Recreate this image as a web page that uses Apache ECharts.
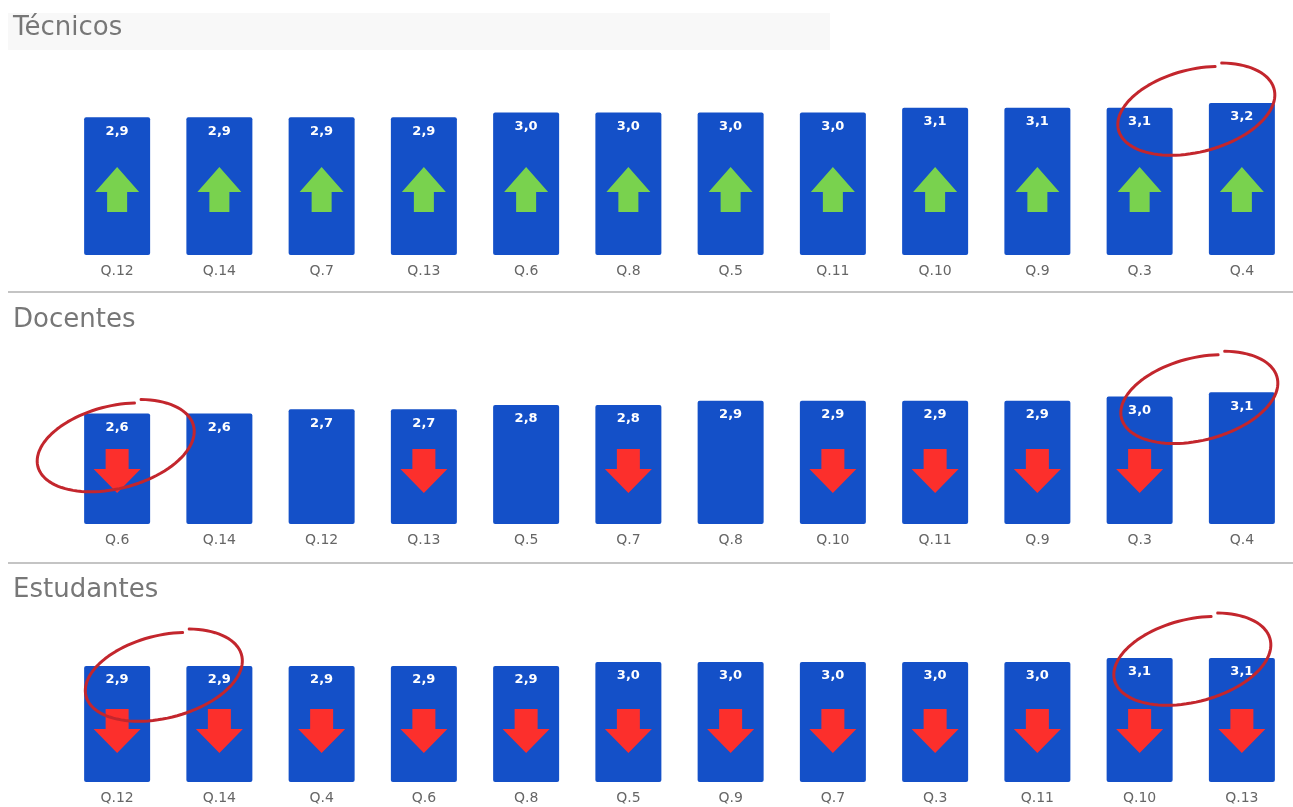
<!DOCTYPE html>
<html>
<head>
<meta charset="utf-8">
<title>Técnicos, Docentes, Estudantes</title>
<script src="https://cdn.jsdelivr.net/npm/echarts@6/dist/echarts.min.js"></script>
<style>
  html, body { margin: 0; padding: 0; background: #ffffff; }
  #chart { width: 1293px; height: 807px; }
</style>
</head>
<body>
<div id="chart"></div>
<script>
// ---- data -------------------------------------------------------------
const tecnicosCategories = ['Q.12', 'Q.14', 'Q.7', 'Q.13', 'Q.6', 'Q.8', 'Q.5', 'Q.11', 'Q.10', 'Q.9', 'Q.3', 'Q.4'];
const tecnicosValues     = [2.9, 2.9, 2.9, 2.9, 3.0, 3.0, 3.0, 3.0, 3.1, 3.1, 3.1, 3.2];
const tecnicosTrend      = ['up', 'up', 'up', 'up', 'up', 'up', 'up', 'up', 'up', 'up', 'up', 'up'];

const docentesCategories = ['Q.6', 'Q.14', 'Q.12', 'Q.13', 'Q.5', 'Q.7', 'Q.8', 'Q.10', 'Q.11', 'Q.9', 'Q.3', 'Q.4'];
const docentesValues     = [2.6, 2.6, 2.7, 2.7, 2.8, 2.8, 2.9, 2.9, 2.9, 2.9, 3.0, 3.1];
const docentesTrend      = ['down', null, null, 'down', null, 'down', null, 'down', 'down', 'down', 'down', null];

const estudantesCategories = ['Q.12', 'Q.14', 'Q.4', 'Q.6', 'Q.8', 'Q.5', 'Q.9', 'Q.7', 'Q.3', 'Q.11', 'Q.10', 'Q.13'];
const estudantesValues     = [2.9, 2.9, 2.9, 2.9, 2.9, 3.0, 3.0, 3.0, 3.0, 3.0, 3.1, 3.1];
const estudantesTrend      = ['down', 'down', 'down', 'down', 'down', 'down', 'down', 'down', 'down', 'down', 'down', 'down'];

const panelTitles = ['Técnicos', 'Docentes', 'Estudantes'];

// highlighted groups of questions (circled in red)
const tecnicosCircled   = [['Q.3', 'Q.4']];
const docentesCircled   = [['Q.6'], ['Q.3', 'Q.4']];
const estudantesCircled = [['Q.12', 'Q.14'], ['Q.10', 'Q.13']];

// ---- layout & style -----------------------------------------------------
const BAR_BLUE = '#1450c8';
const UP_GREEN = '#79d24e';
const DOWN_RED = '#fc2f2c';
const RING_RED = '#c3262d';
const FONT = "'DejaVu Sans', 'Liberation Sans', sans-serif";

const UP_ARROW = 'path://M22,0 L44,25 L32,25 L32,45 L12,45 L12,25 L0,25 Z';
const DOWN_ARROW = 'path://M12,0 L35,0 L35,20 L47,20 L23.5,44 L0,20 L12,20 Z';

const panels = [
  { title: panelTitles[0], cats: tecnicosCategories, vals: tecnicosValues, trend: tecnicosTrend, circled: tecnicosCircled,
    top: 65, height: 190, arrowLift: -43, titleY: 28, ringShift: [[4, 7]] },
  { title: panelTitles[1], cats: docentesCategories, vals: docentesValues, trend: docentesTrend, circled: docentesCircled,
    top: 354, height: 170, arrowLift: -31, titleY: 320, ringShift: [[-3, 33], [7, 6]] },
  { title: panelTitles[2], cats: estudantesCategories, vals: estudantesValues, trend: estudantesTrend, circled: estudantesCircled,
    top: 622, height: 160, arrowLift: -29, titleY: 590, ringShift: [[-6, 10], [0, 2]] }
];

const fmt = v => v.toFixed(1).replace('.', ',');

const grids = [], xAxes = [], yAxes = [], series = [];
panels.forEach((p, i) => {
  grids.push({ left: 66, width: 1238, top: p.top, height: p.height, containLabel: false });
  xAxes.push({
    type: 'category', gridIndex: i, data: p.cats,
    axisLine: { show: false }, axisTick: { show: false }, splitLine: { show: false },
    axisLabel: { color: '#666666', fontSize: 14, fontFamily: FONT, margin: 9 }
  });
  yAxes.push({ type: 'value', gridIndex: i, min: 0, max: 4, show: false, splitLine: { show: false } });
  series.push({
    type: 'bar', xAxisIndex: i, yAxisIndex: i, data: p.vals, barWidth: 66,
    itemStyle: { color: BAR_BLUE, borderRadius: 2 },
    label: {
      show: true, position: 'insideTop', distance: 7, color: '#ffffff',
      fontFamily: FONT, fontWeight: 'bold', fontSize: 13, lineHeight: 14,
      formatter: d => fmt(d.value)
    },
    silent: true, z: 2
  });
  series.push({
    type: 'pictorialBar', xAxisIndex: i, yAxisIndex: i, barWidth: 66,
    symbolPosition: 'start', symbolOffset: [0, p.arrowLift], symbolRepeat: false, symbolClip: false,
    data: p.vals.map((v, k) => {
      const t = p.trend[k];
      if (!t) return '-';
      return t === 'up'
        ? { value: v, symbol: UP_ARROW, symbolSize: [44, 45], itemStyle: { color: UP_GREEN } }
        : { value: v, symbol: DOWN_ARROW, symbolSize: [47, 44], itemStyle: { color: DOWN_RED } };
    }),
    silent: true, z: 3
  });
});

const chart = echarts.init(document.getElementById('chart'), null, { renderer: 'canvas' });
chart.setOption({
  animation: false,
  backgroundColor: '#ffffff',
  grid: grids, xAxis: xAxes, yAxis: yAxes, series: series
});

// ---- titles, separators and red rings ----------------------------------
function ringPoints(cx, cy, rx, ry, tilt) {
  const pts = [];
  const n = 100, a0 = -1.1, sweep = Math.PI * 2 * 0.99;
  const c = Math.cos(tilt), s = Math.sin(tilt);
  for (let k = 0; k <= n; k++) {
    const f = k / n;
    const t = a0 + sweep * f;
    const sc = 1.04 - 0.08 * f;
    const x = rx * sc * Math.cos(t), y = ry * sc * Math.sin(t);
    pts.push([cx + x * c - y * s, cy + x * s + y * c]);
  }
  return pts;
}

const graphics = [
  { type: 'rect', shape: { x: 8, y: 13, width: 822, height: 37 }, style: { fill: '#f8f8f8' }, z: -1 },
  { type: 'line', shape: { x1: 8, y1: 292, x2: 1293, y2: 292 }, style: { stroke: '#c4c4c4', lineWidth: 2 } },
  { type: 'line', shape: { x1: 8, y1: 563, x2: 1293, y2: 563 }, style: { stroke: '#c4c4c4', lineWidth: 2 } }
];

panels.forEach((p, i) => {
  graphics.push({
    type: 'text', x: 13, y: p.titleY,
    style: { text: p.title, fill: '#777777', font: '26px ' + FONT, textVerticalAlign: 'middle' }
  });
  const barSeries = i * 2;
  p.circled.forEach((group, g) => {
    const pix = group.map(cat => chart.convertToPixel({ seriesIndex: barSeries }, [cat, p.vals[p.cats.indexOf(cat)]]));
    const cx = pix.reduce((a, q) => a + q[0], 0) / pix.length + p.ringShift[g][0];
    const cy = Math.min.apply(null, pix.map(q => q[1])) + p.ringShift[g][1];
    graphics.push({
      type: 'polyline', z: 10,
      shape: { points: ringPoints(cx, cy, 80, 42, -0.25), smooth: 0 },
      style: { stroke: RING_RED, lineWidth: 3, fill: null, lineCap: 'round', lineJoin: 'round' }
    });
  });
});

chart.setOption({ graphic: graphics });
</script>
</body>
</html>
